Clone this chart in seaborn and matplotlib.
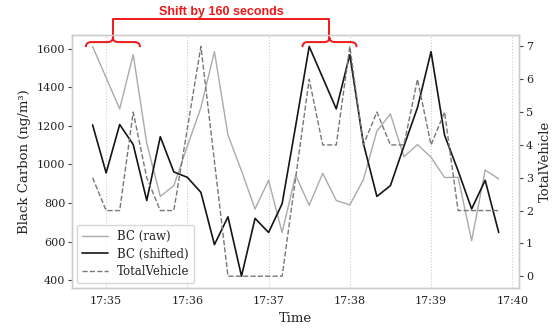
import numpy as np
import pandas as pd
import matplotlib
matplotlib.use("Agg")
import matplotlib.pyplot as plt
import matplotlib.dates as mdates
import matplotlib.transforms as mtransforms
from matplotlib.path import Path
from matplotlib.patches import PathPatch
import seaborn as sns

# ---- data (10 s samples) ----
start_time = "2024-01-01 17:34:50"
n_samples = 31
bc_raw = [1612, 1450, 1288, 1570, 1110, 834, 890, 1095, 1295, 1585, 1152,
          967, 769, 918, 647, 944, 788, 954, 813, 790, 920, 1173, 1262,
          1040, 1103, 1037, 932, 933, 604, 971, 925]
bc_shifted = [1205, 956, 1207, 1103, 813, 1144, 961, 933, 855, 584, 728,
              420, 720, 647, 796, 1200, 1612, 1450, 1288, 1570, 1110, 834,
              890, 1095, 1295, 1585, 1152, 967, 769, 918, 647]
total_vehicle = [3, 2, 2, 5, 3, 2, 2, 4.5, 7, 3.5, 0, 0, 0, 0, 0, 3, 6, 4, 4,
                 7, 4, 5, 4, 4, 6, 4, 5, 2, 2, 2, 2]
series_labels = ["BC (raw)", "BC (shifted)", "TotalVehicle"]
shift_text = "Shift by 160 seconds"
shift_seconds = 160

times = pd.date_range(start_time, periods=n_samples, freq="10s")
df = pd.DataFrame({"Time": times, "raw": bc_raw, "shifted": bc_shifted,
                   "vehicles": total_vehicle})

sns.set_theme(style="white")
plt.rcParams["font.family"] = ["DejaVu Serif"]

fig = plt.figure(figsize=(5.57, 3.28), dpi=100)
ax = fig.add_axes([0.1298, 0.1229, 0.802, 0.7704])
ax2 = ax.twinx()

sns.lineplot(data=df, x="Time", y="raw", ax=ax, color="#aaaaaa", lw=1.0,
             label=series_labels[0], legend=False)
sns.lineplot(data=df, x="Time", y="shifted", ax=ax, color="#151515", lw=1.2,
             label=series_labels[1], legend=False)
sns.lineplot(data=df, x="Time", y="vehicles", ax=ax2, color="#777777", lw=1.0,
             linestyle="--", label=series_labels[2], legend=False)

ax.set_ylabel("Black Carbon (ng/m³)", fontsize=9.5)
ax.set_xlabel("Time", fontsize=9.5)
ax2.set_ylabel("TotalVehicle", fontsize=9.5)

ax.xaxis.set_major_locator(mdates.MinuteLocator())
ax.xaxis.set_major_formatter(mdates.DateFormatter("%H:%M"))
ax2.yaxis.set_major_locator(matplotlib.ticker.MultipleLocator(1))
ax.yaxis.set_major_locator(matplotlib.ticker.MultipleLocator(200))

for a in (ax, ax2):
    a.tick_params(axis="both", labelsize=8, colors="#222222")
    for sp in a.spines.values():
        sp.set_color("#cccccc")
        sp.set_linewidth(1.0)
ax.tick_params(axis="y", length=3, width=0.8, color="#444444", pad=2)
ax2.tick_params(axis="y", length=3, width=0.8, color="#444444", pad=2)
ax.tick_params(axis="x", length=0, pad=6)

ax.grid(axis="x", linestyle=":", color="#cccccc", lw=0.8)
ax.grid(axis="y", visible=False)
ax2.grid(False)

h1, l1 = ax.get_legend_handles_labels()
h2, l2 = ax2.get_legend_handles_labels()
leg = ax2.legend(h1 + h2, l1 + l2, loc="lower left", fontsize=8.5,
                 frameon=True, fancybox=True, borderaxespad=0.4,
                 handlelength=2.2, labelspacing=0.4)
leg.get_frame().set_edgecolor("#cccccc")

# ---- shift annotation: two braces joined by a bracket ----
trans = mtransforms.blended_transform_factory(ax.transData, ax.transAxes)
red = "#f01818"
half = pd.Timedelta(seconds=20)
radius = pd.Timedelta(seconds=4)
y_end, y_flat, y_tip, y_top = 0.952, 0.972, 0.99, 1.062


def brace(center):
    x0 = mdates.date2num(center - half)
    x1 = mdates.date2num(center + half)
    xc = mdates.date2num(center)
    r = mdates.date2num(center + radius) - xc
    verts = [(x0, y_end), (x0, y_flat), (x0 + r, y_flat),
             (xc - r, y_flat), (xc, y_flat), (xc, y_tip),
             (xc, y_flat), (xc + r, y_flat),
             (x1 - r, y_flat), (x1, y_flat), (x1, y_end)]
    codes = [Path.MOVETO, Path.CURVE3, Path.CURVE3,
             Path.LINETO, Path.CURVE3, Path.CURVE3,
             Path.CURVE3, Path.CURVE3,
             Path.LINETO, Path.CURVE3, Path.CURVE3]
    patch = PathPatch(Path(verts, codes), transform=trans, fill=False,
                      edgecolor=red, lw=1.4, clip_on=False)
    ax2.add_patch(patch)
    return xc


left_center = pd.Timestamp("2024-01-01 17:35:05")
right_center = left_center + pd.Timedelta(seconds=shift_seconds)
xl = brace(left_center)
xr = brace(right_center)
ax2.plot([xl, xl, xr, xr], [y_tip, y_top, y_top, y_tip], color=red, lw=1.4,
         transform=trans, clip_on=False)
ax2.text((xl + xr) / 2, 1.092, shift_text, transform=trans, ha="center",
         va="center", color=red, fontsize=9, fontweight="semibold",
         family=["Liberation Sans", "DejaVu Sans"])

fig.savefig("out.png", dpi=100)
